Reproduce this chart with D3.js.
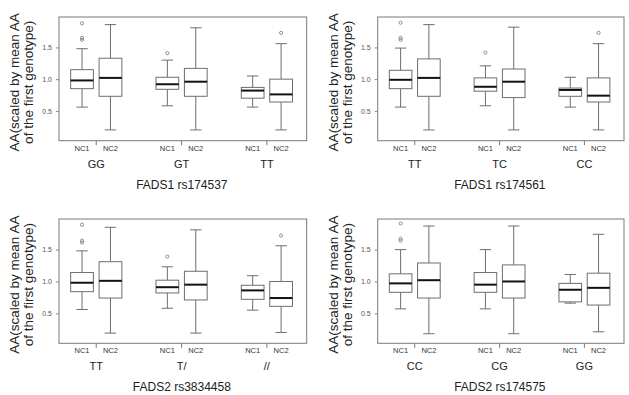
<!DOCTYPE html>
<html>
<head>
<meta charset="utf-8">
<script src="https://cdn.jsdelivr.net/npm/d3@7"></script>
<style>
  body { margin: 0; background: #fff; }
  svg { font-family: "Liberation Sans", Arial, sans-serif; }
</style>
</head>
<body>
<script>
// data: [lower whisker, q1, median, q3, upper whisker]
var groups = ["NC1", "NC2"];
var positions = [1, 2, 4, 5, 7, 8];
var yTicks = [0.5, 1.0, 1.5];
var yTitle = ["AA(scaled by mean AA", "of the first genotype)"];

var titles = ["FADS1 rs174537", "FADS1 rs174561", "FADS2 rs3834458", "FADS2 rs174575"];

var genotypes1 = ["GG", "GT", "TT"];
var genotypes2 = ["TT", "TC", "CC"];
var genotypes3 = ["TT", "T/", "//"];
var genotypes4 = ["CC", "CG", "GG"];

var stats1 = [
  [0.56, 0.85, 0.98, 1.15, 1.48],
  [0.20, 0.73, 1.02, 1.33, 1.86],
  [0.58, 0.84, 0.92, 1.03, 1.30],
  [0.20, 0.73, 0.96, 1.17, 1.81],
  [0.56, 0.70, 0.82, 0.87, 1.05],
  [0.20, 0.64, 0.76, 1.00, 1.56]
];
var stats2 = [
  [0.56, 0.85, 0.99, 1.14, 1.49],
  [0.20, 0.73, 1.02, 1.32, 1.86],
  [0.58, 0.81, 0.88, 1.02, 1.21],
  [0.20, 0.71, 0.96, 1.16, 1.82],
  [0.56, 0.73, 0.83, 0.86, 1.03],
  [0.20, 0.64, 0.74, 1.02, 1.56]
];
var stats3 = [
  [0.56, 0.84, 0.98, 1.14, 1.48],
  [0.19, 0.74, 1.01, 1.31, 1.85],
  [0.58, 0.82, 0.91, 1.02, 1.23],
  [0.19, 0.71, 0.95, 1.16, 1.81],
  [0.55, 0.72, 0.86, 0.94, 1.09],
  [0.20, 0.61, 0.74, 1.00, 1.56]
];
var stats4 = [
  [0.57, 0.83, 0.97, 1.12, 1.50],
  [0.18, 0.74, 1.02, 1.29, 1.87],
  [0.57, 0.83, 0.95, 1.14, 1.50],
  [0.18, 0.74, 1.00, 1.26, 1.87],
  [0.66, 0.68, 0.87, 0.97, 1.11],
  [0.21, 0.63, 0.90, 1.13, 1.74]
];

// outliers: [box index, value]
var outliers1 = [[0, 1.62], [0, 1.65], [0, 1.88], [2, 1.41], [5, 1.73]];
var outliers2 = [[0, 1.62], [0, 1.65], [0, 1.89], [2, 1.42], [5, 1.73]];
var outliers3 = [[0, 1.61], [0, 1.64], [0, 1.89], [2, 1.39], [5, 1.72]];
var outliers4 = [[0, 1.64], [0, 1.67], [0, 1.91]];

var panels = [
  {title: titles[0], genotypes: genotypes1, stats: stats1, outliers: outliers1, x0: 59,    x1: 306.7, y0: 17,  y1: 140.7},
  {title: titles[1], genotypes: genotypes2, stats: stats2, outliers: outliers2, x0: 377.7, x1: 624,   y0: 17,  y1: 140.7},
  {title: titles[2], genotypes: genotypes3, stats: stats3, outliers: outliers3, x0: 59,    x1: 306.7, y0: 219, y1: 343.3},
  {title: titles[3], genotypes: genotypes4, stats: stats4, outliers: outliers4, x0: 377.7, x1: 624,   y0: 219, y1: 343.3}
];

var svg = d3.select("body").append("svg")
    .attr("width", 629)
    .attr("height", 395);

var lineCol = "#6e6e6e";

panels.forEach(function(p) {
  var x = d3.scaleLinear().domain([0.19, 8.9]).range([p.x0, p.x1]);
  var y = d3.scaleLinear().domain([0.03, 1.98]).range([p.y1, p.y0]);
  var g = svg.append("g");
  var bw = x(0.4) - x(0);   // half box width
  var cw = x(0.2) - x(0);   // half staple width

  // frame
  g.append("rect")
      .attr("x", p.x0).attr("y", p.y0)
      .attr("width", p.x1 - p.x0).attr("height", p.y1 - p.y0)
      .attr("fill", "none").attr("stroke", "#7a7a7a").attr("stroke-width", 1);

  // y axis
  var yAxis = d3.axisLeft(y).tickValues(yTicks).tickSize(3).tickFormat(d3.format(".1f"));
  var ax = g.append("g").attr("transform", "translate(" + p.x0 + ",0)").call(yAxis);
  ax.select(".domain").remove();
  ax.selectAll(".tick line").attr("stroke", "#888");
  ax.selectAll(".tick text")
      .attr("font-size", "7px")
      .attr("font-family", "Liberation Sans, Arial, sans-serif")
      .attr("fill", "#555")
      .attr("dx", -1);

  // boxes
  p.stats.forEach(function(s, i) {
    var cx = x(positions[i]);
    var b = g.append("g");
    b.append("line").attr("x1", cx).attr("x2", cx).attr("y1", y(s[0])).attr("y2", y(s[1]))
        .attr("stroke", lineCol);
    b.append("line").attr("x1", cx).attr("x2", cx).attr("y1", y(s[3])).attr("y2", y(s[4]))
        .attr("stroke", lineCol);
    b.append("line").attr("x1", cx - cw).attr("x2", cx + cw).attr("y1", y(s[0])).attr("y2", y(s[0]))
        .attr("stroke", lineCol);
    b.append("line").attr("x1", cx - cw).attr("x2", cx + cw).attr("y1", y(s[4])).attr("y2", y(s[4]))
        .attr("stroke", lineCol);
    b.append("rect")
        .attr("x", cx - bw).attr("width", 2 * bw)
        .attr("y", y(s[3])).attr("height", y(s[1]) - y(s[3]))
        .attr("fill", "#fff").attr("stroke", lineCol);
    b.append("line").attr("x1", cx - bw).attr("x2", cx + bw).attr("y1", y(s[2])).attr("y2", y(s[2]))
        .attr("stroke", "#111").attr("stroke-width", 2);
  });

  g.selectAll("circle.out").data(p.outliers).enter().append("circle")
      .attr("cx", function(d) { return x(positions[d[0]]); })
      .attr("cy", function(d) { return y(d[1]); })
      .attr("r", 1.6)
      .attr("fill", "none").attr("stroke", "#777").attr("stroke-width", 0.8);

  // group separators and labels
  [1.5, 4.5, 7.5].forEach(function(c, k) {
    g.append("line").attr("x1", x(c)).attr("x2", x(c)).attr("y1", p.y1).attr("y2", p.y1 + 4.5)
        .attr("stroke", "#777");
    g.append("text").attr("x", x(c)).attr("y", p.y1 + 27)
        .attr("text-anchor", "middle").attr("font-size", "11px").attr("fill", "#222")
        .text(p.genotypes[k]);
  });
  positions.forEach(function(pos, i) {
    g.append("text").attr("x", x(pos)).attr("y", p.y1 + 10)
        .attr("text-anchor", "middle").attr("font-size", "7.5px").attr("fill", "#333")
        .text(groups[i % 2]);
  });

  g.append("text").attr("x", (p.x0 + p.x1) / 2 - 1).attr("y", p.y1 + 48)
      .attr("text-anchor", "middle").attr("font-size", "12px").attr("fill", "#222")
      .text(p.title);

  // y title, two lines
  var cy = (p.y0 + p.y1) / 2 + 3.5;
  yTitle.forEach(function(t, k) {
    var tx = p.x0 - 40 + k * 14;
    g.append("text")
        .attr("transform", "translate(" + tx + "," + cy + ") rotate(-90)")
        .attr("text-anchor", "middle").attr("font-size", "13.5px").attr("fill", "#222")
        .text(t);
  });
});
</script>
</body>
</html>
